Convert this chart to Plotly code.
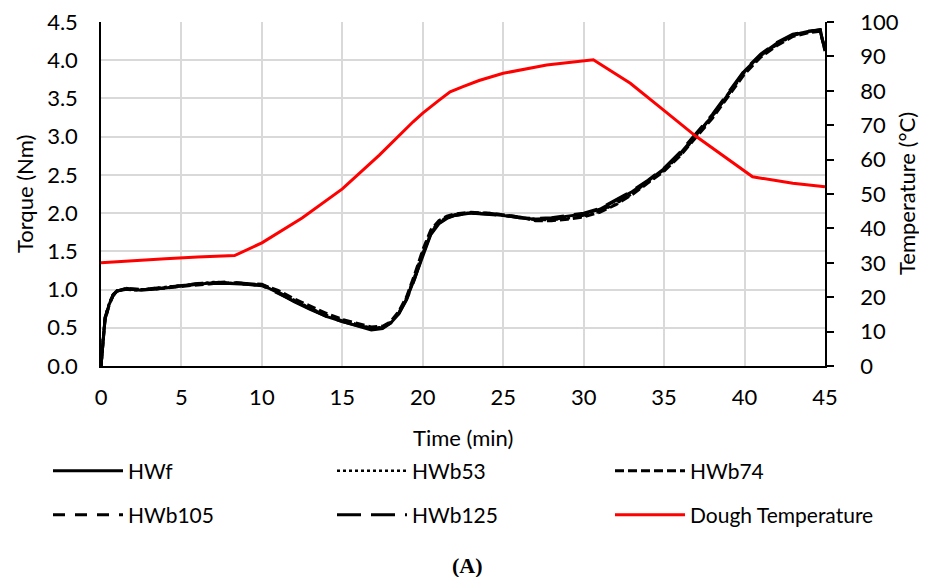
import plotly.graph_objects as go

# ---------------- data ----------------
time_min = [0, 0.1, 0.25, 0.5, 0.75, 1, 1.5, 2, 2.5, 3, 4, 5, 6, 7, 8, 9, 10, 11, 12, 13, 14,
            15, 16, 16.8, 17.5, 18, 18.5, 19, 19.5, 20, 20.5, 21, 21.5, 22, 23, 24, 25, 26,
            27, 28, 29, 30, 31, 32, 33, 34, 35, 36, 37, 38, 39, 40, 41, 42, 43, 44, 44.7, 45]

hwf = [0, 0.30, 0.62, 0.80, 0.93, 0.98, 1.01, 1.00, 0.99, 1.00, 1.02, 1.05, 1.07, 1.09, 1.08,
       1.07, 1.06, 0.96, 0.84, 0.74, 0.65, 0.58, 0.52, 0.47, 0.49, 0.56, 0.68, 0.88, 1.15,
       1.45, 1.72, 1.86, 1.93, 1.97, 2.00, 1.99, 1.97, 1.94, 1.92, 1.93, 1.96, 1.99, 2.05,
       2.16, 2.28, 2.42, 2.58, 2.78, 3.02, 3.27, 3.56, 3.86, 4.07, 4.22, 4.33, 4.38, 4.40, 4.12]
hwb53 = [0, 0.32, 0.64, 0.82, 0.94, 0.99, 1.00, 0.99, 1.00, 1.01, 1.03, 1.06, 1.08, 1.10, 1.09,
         1.07, 1.05, 0.97, 0.86, 0.76, 0.67, 0.60, 0.54, 0.50, 0.51, 0.57, 0.70, 0.90, 1.18,
         1.50, 1.76, 1.89, 1.95, 1.98, 2.01, 2.00, 1.97, 1.95, 1.91, 1.91, 1.93, 1.96, 2.02,
         2.12, 2.25, 2.40, 2.56, 2.76, 3.00, 3.26, 3.55, 3.84, 4.05, 4.20, 4.32, 4.37, 4.39, 4.15]
hwb74 = [0, 0.28, 0.60, 0.79, 0.92, 0.98, 1.01, 1.01, 1.00, 1.00, 1.02, 1.04, 1.06, 1.08, 1.09,
         1.08, 1.06, 0.99, 0.88, 0.78, 0.69, 0.61, 0.55, 0.51, 0.52, 0.58, 0.71, 0.91, 1.20,
         1.52, 1.78, 1.90, 1.96, 1.99, 2.01, 2.00, 1.98, 1.95, 1.90, 1.90, 1.92, 1.95, 2.01,
         2.11, 2.24, 2.39, 2.55, 2.75, 2.99, 3.24, 3.53, 3.82, 4.04, 4.19, 4.31, 4.36, 4.38, 4.14]
hwb105 = [0, 0.31, 0.63, 0.81, 0.93, 0.99, 1.02, 1.00, 0.99, 1.01, 1.03, 1.05, 1.08, 1.09, 1.10,
          1.08, 1.07, 0.97, 0.85, 0.75, 0.66, 0.59, 0.53, 0.49, 0.50, 0.57, 0.69, 0.89, 1.16,
          1.47, 1.74, 1.88, 1.94, 1.98, 2.00, 2.00, 1.98, 1.95, 1.92, 1.92, 1.94, 1.97, 2.03,
          2.13, 2.26, 2.41, 2.57, 2.77, 3.01, 3.28, 3.57, 3.85, 4.06, 4.21, 4.33, 4.37, 4.40, 4.13]
hwb125 = [0, 0.29, 0.61, 0.80, 0.92, 0.98, 1.00, 1.00, 1.00, 1.00, 1.02, 1.05, 1.07, 1.08, 1.08,
          1.07, 1.05, 0.95, 0.84, 0.74, 0.65, 0.58, 0.52, 0.48, 0.50, 0.56, 0.68, 0.87, 1.14,
          1.46, 1.73, 1.87, 1.94, 1.97, 2.00, 1.99, 1.97, 1.94, 1.93, 1.94, 1.97, 2.00, 2.06,
          2.17, 2.29, 2.43, 2.59, 2.80, 3.04, 3.29, 3.58, 3.87, 4.08, 4.23, 4.34, 4.38, 4.39, 4.11]

temp_time = [0, 2, 4, 6, 8.3, 10, 12.5, 15, 17.3, 19.4, 20, 21, 21.7, 22.5, 23.5, 25, 27.7,
             30.6, 32.9, 34.7, 37, 40.5, 43, 45]
dough_temp = [30.0, 30.7, 31.2, 31.7, 32.1, 35.8, 43.0, 51.5, 61.3, 71.0, 73.5, 77.2, 79.7,
              81.2, 83.0, 85.1, 87.5, 89.0, 82.2, 75.4, 66.7, 55.0, 53.1, 52.1]

x_ticks = [0, 5, 10, 15, 20, 25, 30, 35, 40, 45]
y_ticks = [0.0, 0.5, 1.0, 1.5, 2.0, 2.5, 3.0, 3.5, 4.0, 4.5]
y2_ticks = [0, 10, 20, 30, 40, 50, 60, 70, 80, 90, 100]

FONT = "Lato"
TICK_SIZE = 22
LEG_SIZE = 21
FIG_W, FIG_H = 915, 569

fig = go.Figure()

# name, values, dash, width, legend id, legend left (container px), row centre (container px)
series = [
    ("HWf", hwf, "solid", 3, "legend", 40, 463),
    ("HWb53", hwb53, "dot", 2.5, "legend2", 324, 463),
    ("HWb74", hwb74, "9px,4px", 3, "legend3", 602, 463),
    ("HWb105", hwb105, "12px,10px", 3, "legend4", 40, 507),
    ("HWb125", hwb125, "24px,10px", 3, "legend5", 324, 507),
]
legends = {}
for name, vals, dash, w, lg, lx, ly in series:
    fig.add_trace(go.Scatter(x=time_min, y=vals, mode="lines", name=name,
                             line=dict(color="black", width=w, dash=dash),
                             legend=lg))
    legends[lg] = (lx, ly)

fig.add_trace(go.Scatter(x=temp_time, y=dough_temp, mode="lines", name="Dough Temperature",
                         line=dict(color="#ff0000", width=3), yaxis="y2", legend="legend6"))
legends["legend6"] = (602, 507)

leg_layout = {}
for lg, (lx, ly) in legends.items():
    leg_layout[lg] = dict(orientation="v", xref="container", yref="container",
                          x=lx / FIG_W, y=1 - ly / FIG_H, itemwidth=70,
                          xanchor="left", yanchor="middle", bgcolor="rgba(0,0,0,0)",
                          font=dict(family=FONT, size=LEG_SIZE, color="black"))

fig.update_layout(
    width=FIG_W, height=FIG_H,
    margin=dict(l=93, r=FIG_W - 93 - 724, t=14, b=211, autoexpand=False),
    paper_bgcolor="white", plot_bgcolor="white",
    font=dict(family=FONT, size=TICK_SIZE, color="black"),
    showlegend=True,
    **leg_layout,
    xaxis=dict(range=[0, 45], tickvals=x_ticks, ticktext=[str(v) for v in x_ticks],
               showgrid=True, gridcolor="#d9d9d9", gridwidth=1.5,
               showline=True, linecolor="black", linewidth=1.5,
               ticks="", ticklabelstandoff=11, zeroline=False, tickangle=0,
               ticklabeloverflow="allow"),
    yaxis=dict(range=[0, 4.5], tickvals=y_ticks, ticktext=[f"{v:.1f}" for v in y_ticks],
               showgrid=True, gridcolor="#d9d9d9", gridwidth=1.5,
               showline=True, linecolor="black", linewidth=1.5,
               ticks="", ticklabelstandoff=17, zeroline=False,
               ticklabeloverflow="allow"),
    yaxis2=dict(range=[0, 100], tickvals=y2_ticks, overlaying="y", side="right",
                showgrid=False, showline=True, linecolor="black", linewidth=1.5,
                ticks="outside", ticklen=7, tickwidth=1.5, tickcolor="black",
                ticklabelstandoff=22, zeroline=False, ticklabeloverflow="allow"),
    annotations=[
        dict(text="Time (min)", xref="paper", yref="paper", x=0.5, y=(366 - 437) / 344,
             xanchor="center", yanchor="middle", showarrow=False,
             font=dict(family=FONT, size=TICK_SIZE, color="black")),
        dict(text="Torque (Nm)", xref="paper", yref="paper", x=(24 - 101) / 724, y=0.5,
             xanchor="center", yanchor="middle", textangle=-90, showarrow=False,
             font=dict(family=FONT, size=TICK_SIZE, color="black")),
        dict(text="Temperature (°C)", xref="paper", yref="paper", x=(906 - 101) / 724, y=0.5,
             xanchor="center", yanchor="middle", textangle=-90, showarrow=False,
             font=dict(family=FONT, size=TICK_SIZE, color="black")),
        dict(text="<b>(A)</b>", xref="paper", yref="paper",
             x=(467 - 101) / 724, y=(366 - 565) / 344,
             xanchor="center", yanchor="middle", showarrow=False,
             font=dict(family="Liberation Serif", size=22, color="black")),
    ],
)

fig.write_html("out.html")
